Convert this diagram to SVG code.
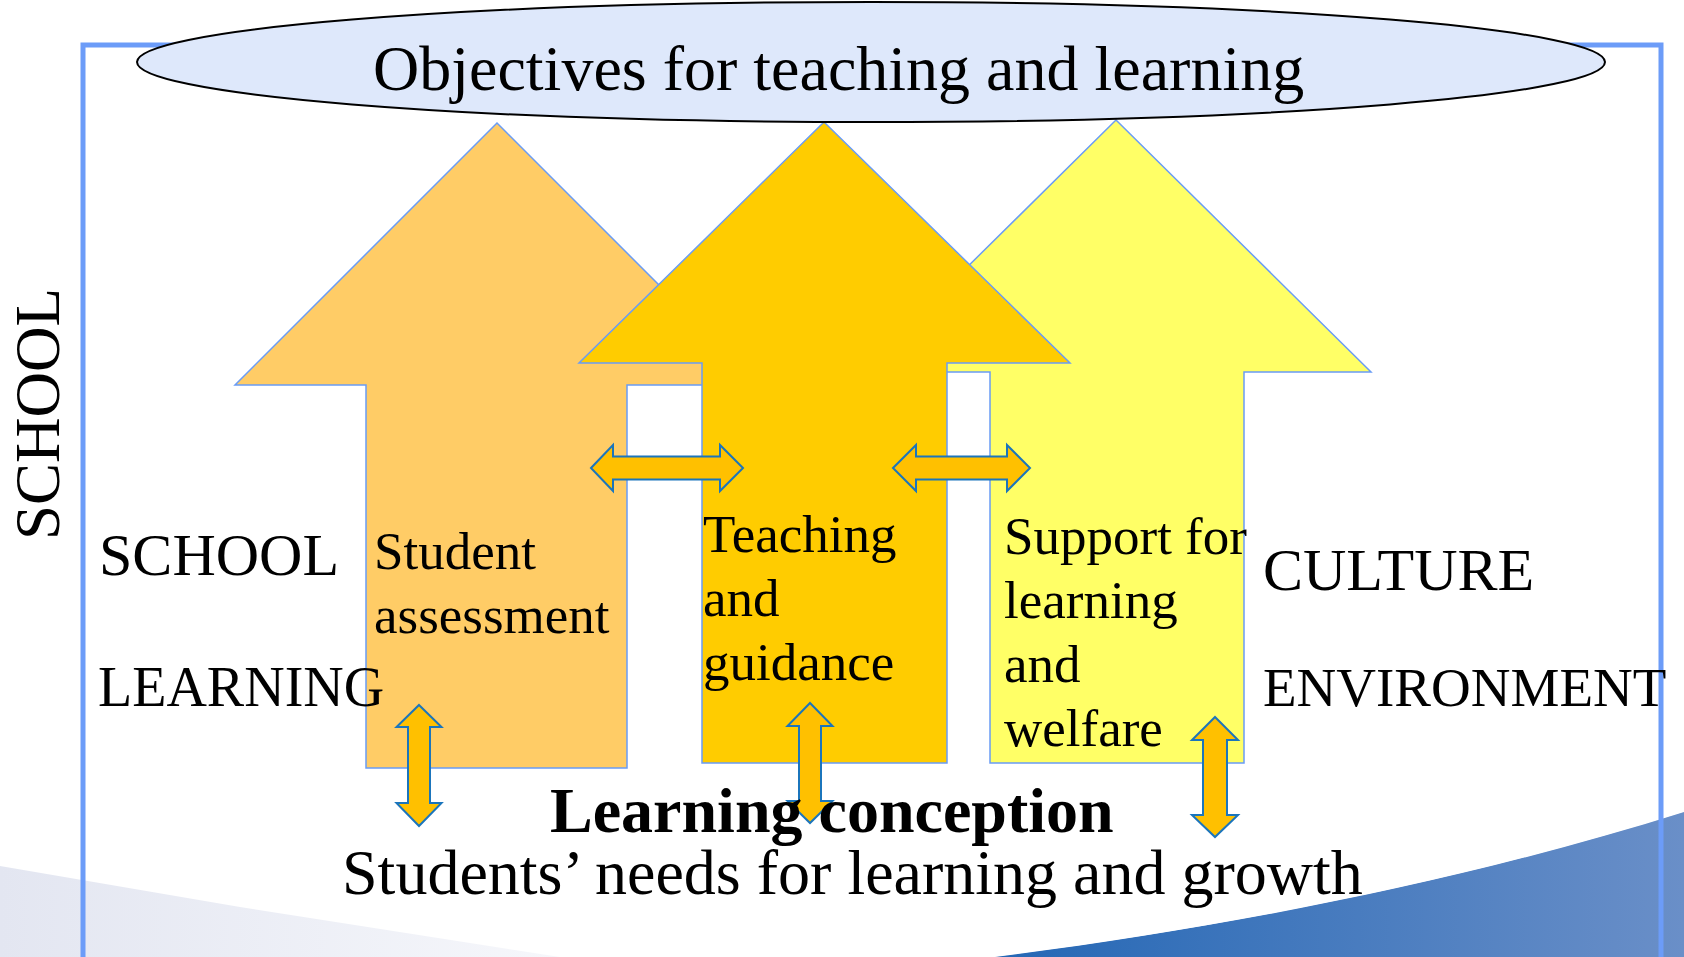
<svg xmlns="http://www.w3.org/2000/svg" width="1684" height="957" viewBox="0 0 1684 957">
  <defs>
    <linearGradient id="swoosh" x1="0" y1="0" x2="1" y2="0">
      <stop offset="0" stop-color="#2467B5"/>
      <stop offset="1" stop-color="#6A8FC8"/>
    </linearGradient>
    <linearGradient id="lav" x1="0" y1="0" x2="1" y2="0">
      <stop offset="0" stop-color="#E3E6F1"/>
      <stop offset="1" stop-color="#F6F7FB"/>
    </linearGradient>
    <style>
      text { font-family: "Liberation Serif", "Times New Roman", serif; fill: #000; }
      .big { stroke: #6A9CF5; stroke-width: 1.5; }
      .dbl { fill: #FFC000; stroke: #1B75BC; stroke-width: 2; stroke-linejoin: miter; }
      .lbl { font-size: 53px; }
    </style>
  </defs>
  <rect width="1684" height="957" fill="#FFFFFF"/>
  <g id="background">
    <path d="M0,866 L240,907 L560,957 L0,957 Z" fill="url(#lav)"/>
    <path d="M995,957 C1210,930 1455,884 1684,812 L1684,957 Z" fill="url(#swoosh)"/>
    <path d="M995,955 C1210,928 1455,882 1684,810" fill="none" stroke="#FFFFFF" stroke-width="3" opacity="0.9"/>
  </g>
  <g id="frame">
    <path d="M83,960 V45 H1661 V960" fill="none" stroke="#6C9CF8" stroke-width="5"/>
  </g>
  <g id="arrow-assessment">
    <path class="big" d="M497,123 L759,385 L627,385 L627,768 L366,768 L366,385 L235,385 Z" fill="#FFCC66"/>
  </g>
  <g id="arrow-support">
    <path class="big" d="M1116,120 L1371,372 L1244,372 L1244,763 L990,763 L990,372 L861,372 Z" fill="#FFFF66"/>
  </g>
  <g id="arrow-teaching">
    <path class="big" d="M824,122 L1070,363 L947,363 L947,763 L702,763 L702,363 L579,363 Z" fill="#FFCC00"/>
  </g>
  <g id="objectives">
    <ellipse cx="871" cy="62" rx="734" ry="60" fill="#DEE8FB" stroke="#000" stroke-width="2"/>
    <text x="373" y="90" font-size="64">Objectives for teaching and learning</text>
  </g>
  <g id="connectors">
    <polygon class="dbl" points="591,468 613,445 613,456.5 720,456.5 720,445 743,468 720,491 720,479.5 613,479.5 613,491"/>
    <polygon class="dbl" points="893,468 916,445 916,456.5 1007,456.5 1007,445 1030,468 1007,491 1007,479.5 916,479.5 916,491"/>
    <polygon class="dbl" points="419,705 441.5,727 430,727 430,803 441.5,803 419,826 396.5,803 408,803 408,727 396.5,727"/>
    <polygon class="dbl" points="810,703 832.5,726 821,726 821,801 832.5,801 810,823 787.5,801 799,801 799,726 787.5,726"/>
    <polygon class="dbl" points="1215,717 1238,740 1227,740 1227,815 1238,815 1215,837 1192,815 1203,815 1203,740 1192,740"/>
  </g>
  <g id="labels">
    <text class="lbl" x="374" y="569">Student</text>
    <text class="lbl" x="374" y="633">assessment</text>
    <text class="lbl" x="703" y="552">Teaching</text>
    <text class="lbl" x="703" y="616">and</text>
    <text class="lbl" x="703" y="680">guidance</text>
    <text class="lbl" x="1004" y="554">Support for</text>
    <text class="lbl" x="1004" y="618">learning</text>
    <text class="lbl" x="1004" y="682">and</text>
    <text class="lbl" x="1004" y="746">welfare</text>
  </g>
  <g id="side-texts">
    <text x="59" y="414" font-size="63" text-anchor="middle" transform="rotate(-90 59 414)">SCHOOL</text>
    <text x="99" y="575" font-size="60">SCHOOL</text>
    <text x="98" y="706" font-size="56">LEARNING</text>
    <text x="1263" y="590" font-size="60">CULTURE</text>
    <text x="1263" y="706" font-size="55">ENVIRONMENT</text>
  </g>
  <g id="base">
    <text x="550" y="832" font-size="64" font-weight="bold">Learning conception</text>
    <text x="342" y="894" font-size="64">Students’ needs for learning and growth</text>
  </g>
</svg>
